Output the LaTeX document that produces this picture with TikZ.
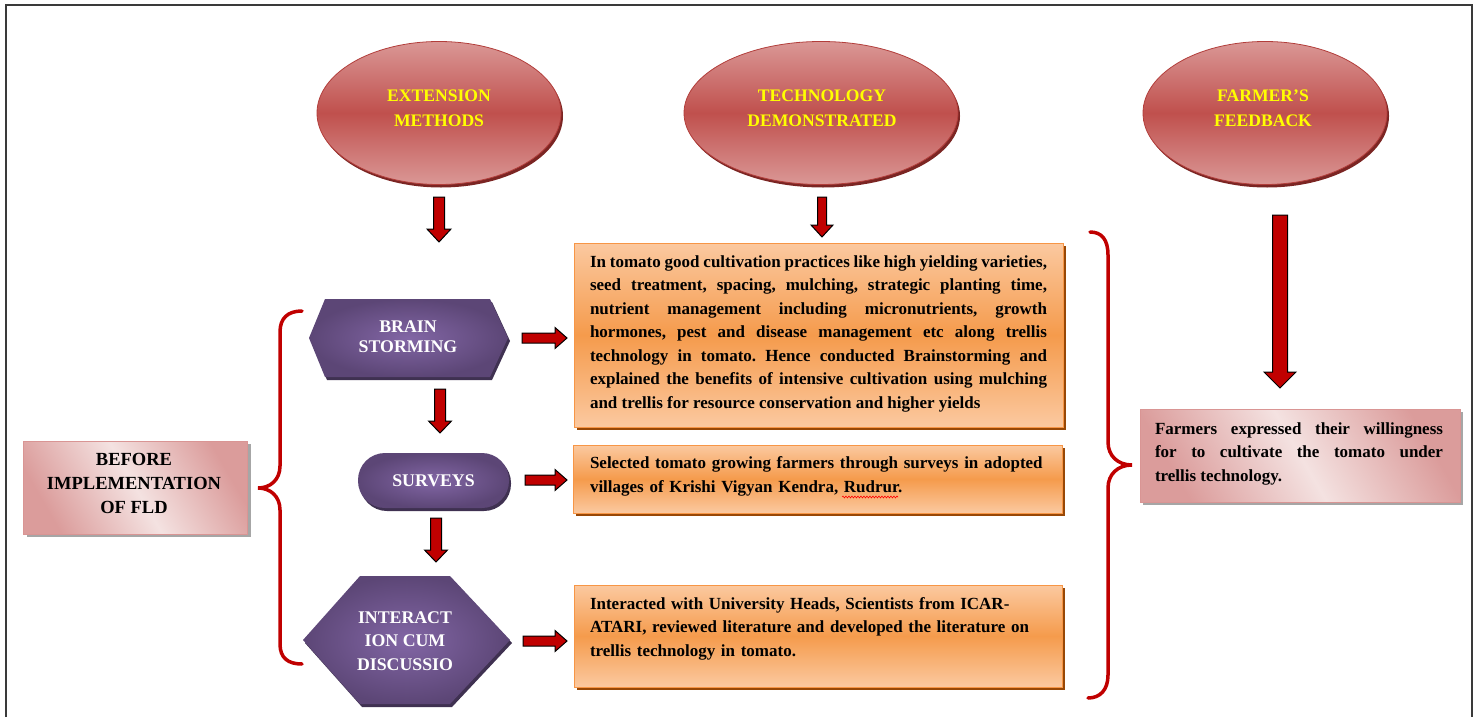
\documentclass[tikz,border=0pt]{standalone}
\usepackage{fontspec}
\setmainfont{Liberation Serif}
\usetikzlibrary{shapes.geometric,shadows,decorations.pathmorphing}
\definecolor{ellL}{HTML}{DA9896}
\definecolor{ellD}{HTML}{C0504D}
\definecolor{ellB}{HTML}{B23E3B}
\definecolor{ellS}{HTML}{7B2523}
\definecolor{purI}{HTML}{8266A5}
\definecolor{purO}{HTML}{5C4676}
\definecolor{purS}{HTML}{3F3151}
\definecolor{orL}{HTML}{FBC9A0}
\definecolor{orD}{HTML}{F59B4C}
\definecolor{orB}{HTML}{F79646}
\definecolor{orS}{HTML}{984806}
\definecolor{pkL}{HTML}{F4E2E1}
\definecolor{pkD}{HTML}{DB9C9B}
\definecolor{pkB}{HTML}{D99594}
\definecolor{pkS}{HTML}{A6A6A6}
\definecolor{arRed}{HTML}{C00000}
\definecolor{brRed}{HTML}{C00000}
\definecolor{ttlYellow}{HTML}{FFFF00}
\definecolor{frameGray}{HTML}{3A3A3A}
\newcommand\blkdown[6]{%
  \draw[blockar] ({#1-#4/2},#2) -- ({#1+#4/2},#2) -- ({#1+#4/2},{#3-#6}) -- ({#1+#5/2},{#3-#6}) -- (#1,#3) -- ({#1-#5/2},{#3-#6}) -- ({#1-#4/2},{#3-#6}) -- cycle;}
\newcommand\blkright[6]{%
  \draw[blockar] (#2,{#1-#4/2}) -- (#2,{#1+#4/2}) -- ({#3-#6},{#1+#4/2}) -- ({#3-#6},{#1+#5/2}) -- (#3,#1) -- ({#3-#6},{#1-#5/2}) -- ({#3-#6},{#1-#4/2}) -- cycle;}
\frenchspacing
\begin{document}
\begin{tikzpicture}[x=1pt,y=-1pt,
  ellnode/.style={ellipse, inner sep=0pt, minimum width=244pt, minimum height=143pt,
    top color=ellL, bottom color=ellL, middle color=ellD, draw=ellB, line width=0.8pt,
    drop shadow={shadow xshift=2pt, shadow yshift=-3pt, fill=ellS, opacity=1}},
  ttl/.style={align=center, text=ttlYellow, font=\fontsize{17.6}{25}\selectfont\bfseries},
  wtxt/.style={align=center, text=white, font=\fontsize{17.8}{22}\selectfont\bfseries},
  hexfill/.style={inner color=purI, outer color=purO},
  hexshadow/.style={fill=purS},
  obox/.style={rectangle, inner sep=0pt, top color=orL, bottom color=orL, middle color=orD,
    draw=orB, line width=0.8pt,
    drop shadow={shadow xshift=3pt, shadow yshift=-3pt, fill=orS, opacity=1}},
  pbox/.style={rectangle, inner sep=0pt, top color=pkD, bottom color=pkD, middle color=pkL, shading angle=-60,
    draw=pkB, line width=0.8pt,
    drop shadow={shadow xshift=3pt, shadow yshift=-3pt, fill=pkS, opacity=1}},
  btxt/.style={inner sep=0pt, text width=457pt, font=\fontsize{17}{23.5}\selectfont\bfseries},
  blockar/.style={fill=arRed, draw=black, line width=1pt, line join=miter},
  brace/.style={draw=brRed, line width=3.5pt, line cap=round}
]
\useasboundingbox (0,0) rectangle (1479,717);
% frame
\draw[frameGray, line width=1.5pt] (6,717) -- (6,5) -- (1472,5) -- (1472,717);

% ellipses
\node[ellnode] (e1) at (439,113) {};
\node[ellnode, minimum width=274pt] (e2) at (821,113) {};
\node[ellnode] (e3) at (1265,113) {};
\node[ttl] (e1t) at (439,108) {EXTENSION\\METHODS};
\node[ttl] (e2t) at (822,108) {TECHNOLOGY\\DEMONSTRATED};
\node[ttl] (e3t) at (1263,108) {FARMER’S\\FEEDBACK};

% hexagon brain storming
\fill[hexshadow] (311,341) -- (327,302) -- (492,302) -- (510,341) -- (492,380) -- (327,380) -- cycle;
\path[hexfill] (309,338) -- (325,299) -- (490,299) -- (508,338) -- (490,377) -- (325,377) -- cycle;
\node[wtxt, font=\fontsize{17.8}{20}\selectfont\bfseries] (brain) at (408,337) {BRAIN\\STORMING};

% surveys
\node[rectangle, rounded corners=27pt, minimum width=151pt, minimum height=55pt, inner sep=0pt,
  inner color=purI, outer color=purO, wtxt,
  drop shadow={shadow xshift=2pt, shadow yshift=-3pt, fill=purS, opacity=1}] (surveys) at (433.5,480.5) {SURVEYS};

% hexagon interaction
\fill[hexshadow] (305,643) -- (362,579) -- (452,579) -- (512,643) -- (452,707) -- (362,707) -- cycle;
\path[hexfill] (303,640) -- (360,576) -- (450,576) -- (510,640) -- (450,704) -- (360,704) -- cycle;
\node[wtxt, font=\fontsize{17.8}{23.5}\selectfont\bfseries] (interact) at (405,641) {INTERACT\\ION CUM\\DISCUSSIO};

% orange boxes
\node[obox, minimum width=489pt, minimum height=184pt] (b1) at (818.5,335) {};
\node[obox, minimum width=489pt, minimum height=68pt] (b2) at (817.5,479) {};
\node[obox, minimum width=488pt, minimum height=102pt] (b3) at (818,636) {};
\node[btxt, align=justify] (t1) at (818.5,333.5) {In tomato good cultivation practices like high yielding varieties,\linebreak
seed treatment, spacing, mulching, strategic planting time,\linebreak
nutrient management including micronutrients, growth\linebreak
hormones, pest and disease management etc along trellis\linebreak
technology in tomato. Hence conducted Brainstorming and\linebreak
explained the benefits of intensive cultivation using mulching\linebreak
and trellis for resource conservation and higher yields};
\node[btxt, align=left] (t2) at (818.5,476.5) {Selected tomato growing farmers through surveys in adopted\\
villages of Krishi Vigyan Kendra, Rudrur.};
\draw[red, line width=0.6pt, decorate, decoration={snake, amplitude=0.9pt, segment length=3pt}] (842,497) -- (898,497);
\node[btxt, align=left] (t3) at (818.5,628.7) {Interacted with University Heads, Scientists from ICAR-\\
ATARI, reviewed literature and developed the literature on\\
trellis technology in tomato.};

% pink boxes
\node[pbox, minimum width=224pt, minimum height=93pt] (lb) at (135.5,487.5) {};
\node[align=center, inner sep=0pt, font=\fontsize{18.5}{24}\selectfont\bfseries] (lt) at (134,483) {BEFORE\\IMPLEMENTATION\\OF FLD};
\node[pbox, minimum width=320pt, minimum height=93pt] (rb) at (1300,455.5) {};
\node[btxt, text width=288pt, align=justify] (rt) at (1299,453.5) {Farmers expressed their willingness\linebreak
for to cultivate the tomato under\linebreak trellis technology.};

% braces
\draw[brace] (302,311) .. controls (288,311) and (280,318) .. (280,332) -- (280,466)
  .. controls (280,480) and (270,488) .. (258,488)
  .. controls (270,488) and (280,496) .. (280,510) -- (280,644)
  .. controls (280,658) and (288,664) .. (302,664);
\draw[brace] (1090,232) .. controls (1102,232) and (1108,240) .. (1108,255) -- (1108,442)
  .. controls (1108,456) and (1118,465) .. (1132,465)
  .. controls (1118,465) and (1108,474) .. (1108,488) -- (1108,675)
  .. controls (1108,690) and (1100,698) .. (1088,698);

% block arrows
\blkdown{439}{197}{242}{11}{24}{13}
\blkdown{822}{197}{237}{9}{22}{12}
\blkdown{1280}{215}{388}{15}{32}{16}
\blkdown{440}{389}{433}{11}{23}{12}
\blkdown{436}{518}{562}{11}{23}{12}
\blkright{338}{522}{567}{10}{21}{12}
\blkright{480}{525}{567}{10}{21}{12}
\blkright{641}{523}{567}{10}{21}{12}
\end{tikzpicture}
\end{document}
